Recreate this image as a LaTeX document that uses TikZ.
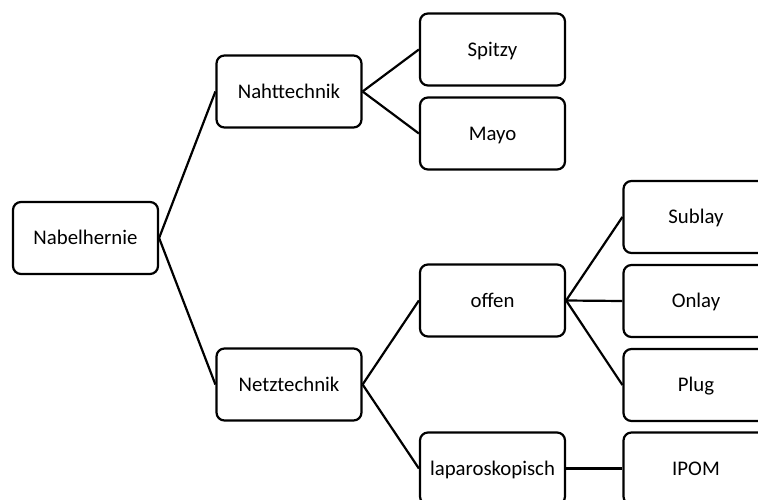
\documentclass[tikz,border=0pt]{standalone}
\usepackage{fontspec}
\setmainfont{Carlito}
\begin{document}
\begin{tikzpicture}[x=1pt,y=-1pt,
  box/.style={draw=black,fill=white,line width=2.2pt,rounded corners=8pt,
    minimum width=145pt,minimum height=72pt,inner sep=0pt,
    text height=13.5pt,text depth=0pt,
    font=\fontsize{20.8}{25}\selectfont},
  link/.style={draw=black,line width=2.2pt}]
\useasboundingbox (0,0) rectangle (758,500);
\clip (0,0) rectangle (758,500);
\node[box] (nabel) at (85.5,238) {Nabelhernie};
\node[box] (naht) at (289,91.5) {Nahttechnik};
\node[box] (netz) at (289,384.5) {Netztechnik};
\node[box] (spitzy) at (492.5,49.5) {Spitzy};
\node[box] (mayo) at (492.5,133.5) {Mayo};
\node[box] (offen) at (492.5,300.5) {offen};
\node[box] (lap) at (492.5,468.5) {laparoskopisch};
\node[box] (sublay) at (696,217) {Sublay};
\node[box] (onlay) at (696,301) {Onlay};
\node[box] (plug) at (696,385) {Plug};
\node[box] (ipom) at (696,468.5) {IPOM};
\draw[link] (nabel.east) -- (naht.west);
\draw[link] (nabel.east) -- (netz.west);
\draw[link] (naht.east) -- (spitzy.west);
\draw[link] (naht.east) -- (mayo.west);
\draw[link] (netz.east) -- (offen.west);
\draw[link] (netz.east) -- (lap.west);
\draw[link] (offen.east) -- (sublay.west);
\draw[link] (offen.east) -- (onlay.west);
\draw[link] (offen.east) -- (plug.west);
\draw[link] (lap.east) -- (ipom.west);
\end{tikzpicture}
\end{document}
